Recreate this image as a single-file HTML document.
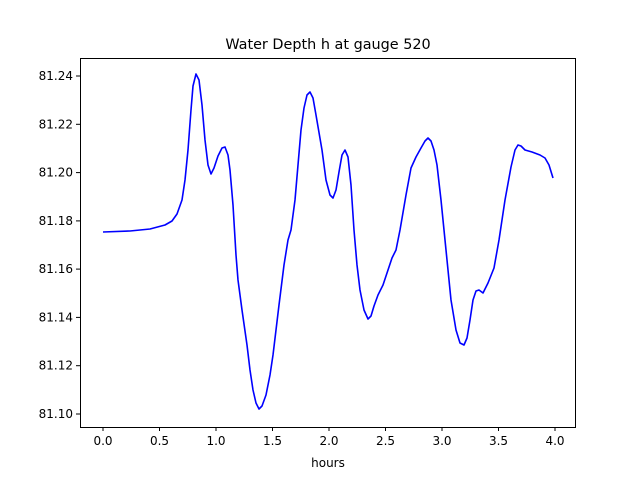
<!DOCTYPE html>
<html><head><meta charset="utf-8"><style>
html,body{margin:0;padding:0;background:#fff;}
svg text{font-family:"DejaVu Sans","Liberation Sans",sans-serif;fill:#000;}
</style></head><body>
<svg width="640" height="480" viewBox="0 0 640 480" xmlns="http://www.w3.org/2000/svg">
<rect width="640" height="480" fill="#fff"/>
<text x="328" y="49" font-size="14.4" text-anchor="middle">Water Depth h at gauge 520</text>
<path fill="none" stroke="#0000ff" stroke-width="1.6" stroke-linejoin="round" d="M103,232 L130,231 L150,229 L165,225 L172,221 L177,214 L182,200 L185,180 L188,150 L191,110 L193,86 L196,74 L199,80 L202,105 L205,140 L208,165 L211,174 L214,168 L218,156 L222,148 L225,147 L228,155 L230,170 L233,205 L236,255 L238,280 L242,310 L247,345 L250,370 L253,390 L256,403 L259,409 L262,406 L266,395 L270,375 L273,355 L279,305 L284,265 L288,240 L291,230 L295,200 L298,165 L301,130 L304,108 L307,95 L310,92 L313,98 L316,115 L322,150 L326,180 L330,195 L333,198 L336,190 L339,172 L342,155 L345,150 L348,157 L351,185 L354,230 L357,265 L360,290 L364,310 L368,319 L371,316 L374,306 L378,295 L383,285 L388,270 L392,258 L396,250 L400,230 L406,195 L411,168 L416,157 L421,148 L425,141 L428,138 L431,141 L434,150 L437,165 L441,200 L446,250 L451,300 L456,330 L460,343 L464,345 L467,338 L470,320 L473,300 L476,291 L479,290 L483,293 L488,283 L494,268 L499,240 L505,200 L511,167 L515,150 L518,145 L521,146 L525,150 L532,152 L540,155 L545,158 L549,165 L553,178"/>
<rect x="80.5" y="58.5" width="495" height="369" fill="none" stroke="#000" stroke-width="1"/>
<g stroke="#000" stroke-width="1">
<line x1="103" y1="427" x2="103" y2="431"/><line x1="159.5" y1="427" x2="159.5" y2="431"/><line x1="216" y1="427" x2="216" y2="431"/><line x1="272.5" y1="427" x2="272.5" y2="431"/><line x1="329" y1="427" x2="329" y2="431"/><line x1="385.5" y1="427" x2="385.5" y2="431"/><line x1="442" y1="427" x2="442" y2="431"/><line x1="498.5" y1="427" x2="498.5" y2="431"/><line x1="555" y1="427" x2="555" y2="431"/>
<line x1="76" y1="76" x2="80" y2="76"/><line x1="76" y1="124.3" x2="80" y2="124.3"/><line x1="76" y1="172.6" x2="80" y2="172.6"/><line x1="76" y1="220.9" x2="80" y2="220.9"/><line x1="76" y1="269.1" x2="80" y2="269.1"/><line x1="76" y1="317.4" x2="80" y2="317.4"/><line x1="76" y1="365.7" x2="80" y2="365.7"/><line x1="76" y1="414" x2="80" y2="414"/>
</g>
<g font-size="12" text-anchor="middle">
<text x="103" y="445">0.0</text><text x="159.5" y="445">0.5</text><text x="216" y="445">1.0</text><text x="272.5" y="445">1.5</text><text x="329" y="445">2.0</text><text x="385.5" y="445">2.5</text><text x="442" y="445">3.0</text><text x="498.5" y="445">3.5</text><text x="555" y="445">4.0</text>
<text x="328" y="467">hours</text>
</g>
<g font-size="12" text-anchor="end">
<text x="73" y="80">81.24</text><text x="73" y="128.3">81.22</text><text x="73" y="176.6">81.20</text><text x="73" y="224.9">81.18</text><text x="73" y="273.1">81.16</text><text x="73" y="321.4">81.14</text><text x="73" y="369.7">81.12</text><text x="73" y="418">81.10</text>
</g>
</svg>
</body></html>
